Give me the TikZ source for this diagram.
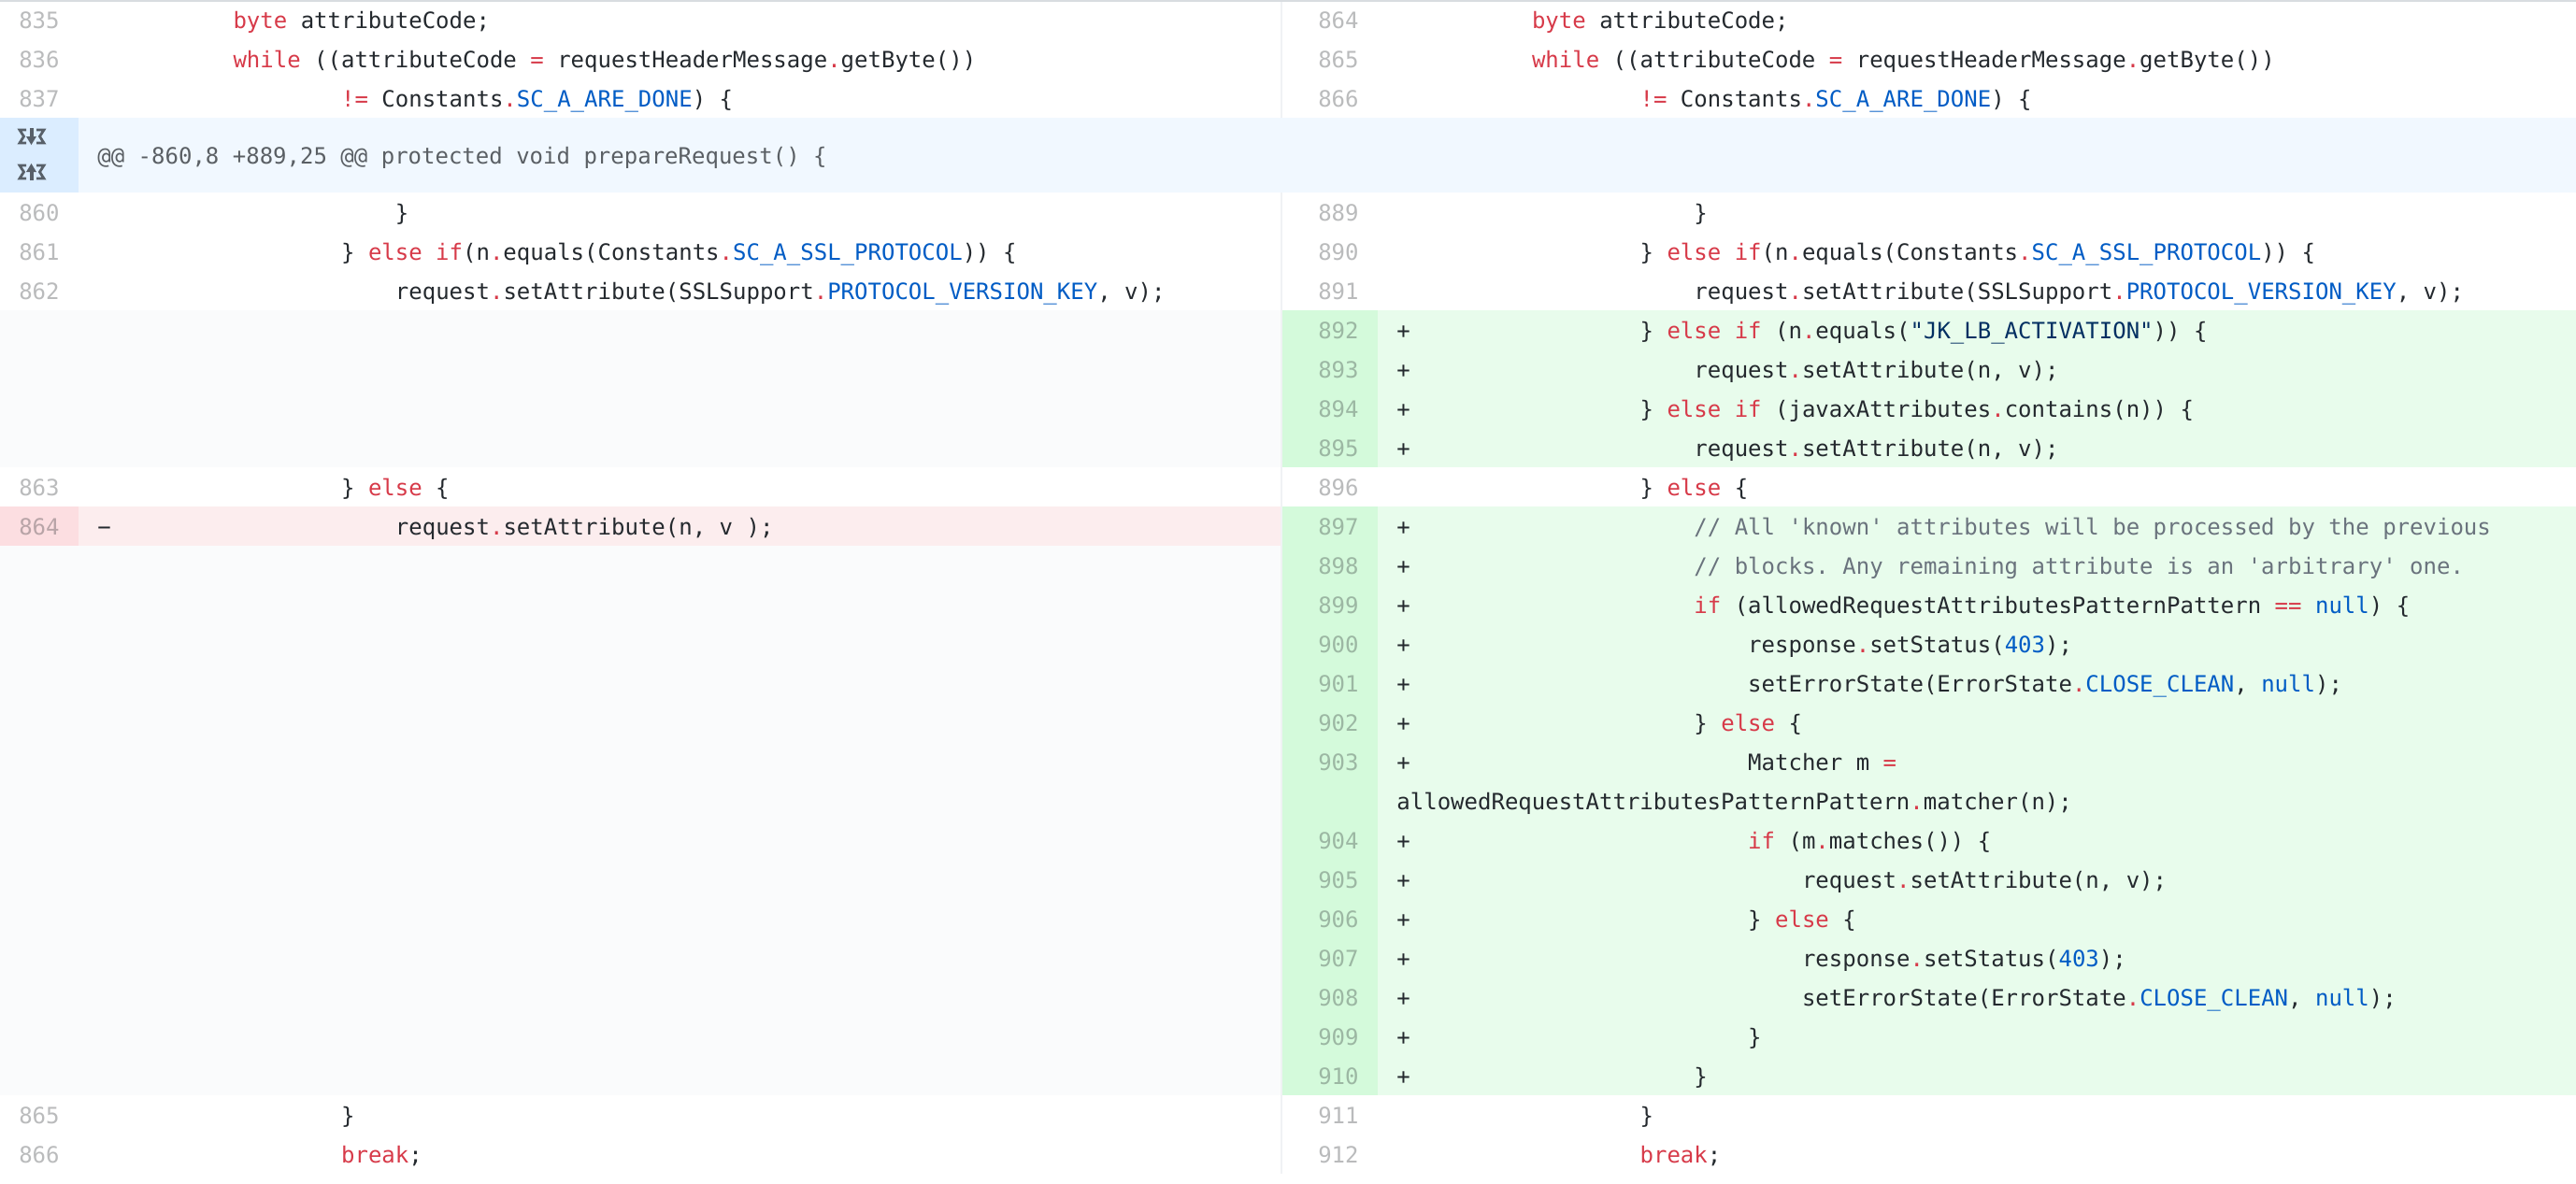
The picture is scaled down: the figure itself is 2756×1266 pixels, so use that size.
\documentclass[tikz,border=0pt]{standalone}
\usepackage{fontspec}
\setmonofont{DejaVu Sans Mono}
\definecolor{codetext}{HTML}{24292E}
\definecolor{kwred}{HTML}{D73A49}
\definecolor{cstblue}{HTML}{005CC5}
\definecolor{strblue}{HTML}{032F62}
\definecolor{cmtgray}{HTML}{6A737D}
\definecolor{numgray}{HTML}{1B1F23}
\definecolor{hunknum}{HTML}{DBEDFF}
\definecolor{hunkcode}{HTML}{F1F8FF}
\definecolor{addnum}{HTML}{D4FADB}
\definecolor{addcode}{HTML}{E8FCEC}
\definecolor{delnum}{HTML}{FCDEE1}
\definecolor{delcode}{HTML}{FCEDEE}
\definecolor{emptycell}{HTML}{FAFBFC}
\definecolor{topline}{HTML}{D8DCE0}
\definecolor{splitline}{HTML}{F0F2F4}
\definecolor{icongray}{HTML}{586069}
\newcommand{\kw}[1]{\textcolor{kwred}{#1}}
\newcommand{\cst}[1]{\textcolor{cstblue}{#1}}
\newcommand{\strg}[1]{\textcolor{strblue}{#1}}
\newcommand{\cmt}[1]{\textcolor{cmtgray}{#1}}

\begin{document}
\begin{tikzpicture}[x=0.5pt,y=-0.5pt,
code/.style = {anchor=base west, inner sep=0pt, text=codetext, font=\ttfamily\fontsize{12pt}{14pt}\selectfont},
lnum/.style = {anchor=base east, inner sep=0pt, text=numgray, text opacity=0.3, font=\ttfamily\fontsize{12pt}{14pt}\selectfont},
hunk/.style = {code, text=numgray, text opacity=0.7},
fold/.style = {draw=icongray, line width=1.4pt, line join=miter},]
\useasboundingbox (0,0) rectangle (2756,1266);
% backgrounds
\fill[white] (0,0) rectangle (2756,1266);
\fill[topline] (0,0) rectangle (2756,2);
\fill[splitline] (1370,2) rectangle (1372,126);
\fill[splitline] (1370,206) rectangle (1372,1256);
\fill[hunknum] (0,126) rectangle (84,206);
\fill[hunkcode] (84,126) rectangle (2756,206);
\fill[emptycell] (0,332) rectangle (1370,500);
\fill[emptycell] (0,584) rectangle (1370,1172);
\fill[delnum] (0,542) rectangle (84,584);
\fill[delcode] (84,542) rectangle (1370,584);
\fill[addnum] (1372,332) rectangle (1474,500);
\fill[addcode] (1474,332) rectangle (2756,500);
\fill[addnum] (1372,542) rectangle (1474,1172);
\fill[addcode] (1474,542) rectangle (2756,1172);
% expand icons
\draw[fold] (28,139)--(21,139)--(25.5,146)--(21,153)--(28,153);
\draw[fold] (39,139)--(47,139)--(42.5,146)--(47,153)--(39,153);
\draw[fold, line width=2pt] (33.5,137)--(33.5,147);
\fill[icongray] (28,146)--(39,146)--(33.5,155)--cycle;
\draw[fold] (28,177)--(21,177)--(25.5,184)--(21,191)--(28,191);
\draw[fold] (39,177)--(47,177)--(42.5,184)--(47,191)--(39,191);
\draw[fold, line width=2pt] (33.5,193)--(33.5,183);
\fill[icongray] (28,184)--(39,184)--(33.5,175)--cycle;
\node (hunkline) at (104,175)[hunk] {@@ -860,8 +889,25 @@ protected void prepareRequest() \{};
% old side
\node (n835) at (64,30)[lnum] {835};
\node (n836) at (64,72)[lnum] {836};
\node (n837) at (64,114)[lnum] {837};
\node (n860) at (64,236)[lnum] {860};
\node (n861) at (64,278)[lnum] {861};
\node (n862) at (64,320)[lnum] {862};
\node (n863) at (64,530)[lnum] {863};
\node (n864) at (64,572)[lnum] {864};
\node (n865) at (64,1202)[lnum] {865};
\node (n866) at (64,1244)[lnum] {866};
\node (l835) at (249.1,30)[code] {\kw{byte} attributeCode;};
\node (l836) at (249.1,72)[code] {\kw{while} ((attributeCode \kw{=} requestHeaderMessage\kw{.}getByte())};
\node (l837) at (364.7,114)[code] {\kw{!=} Constants\kw{.}\cst{SC\_A\_ARE\_DONE}) \{};
\node (l860) at (422.5,236)[code] {\}};
\node (l861) at (364.7,278)[code] {\} \kw{else} \kw{if}(n\kw{.}equals(Constants\kw{.}\cst{SC\_A\_SSL\_PROTOCOL})) \{};
\node (l862) at (422.5,320)[code] {request\kw{.}setAttribute(SSLSupport\kw{.}\cst{PROTOCOL\_VERSION\_KEY}, v);};
\node (l863) at (364.7,530)[code] {\} \kw{else} \{};
\node (m864) at (104,572)[code] {−};
\node (l864) at (422.5,572)[code] {request\kw{.}setAttribute(n, v );};
\node (l865) at (364.7,1202)[code] {\}};
\node (l866) at (364.7,1244)[code] {\kw{break};};
% new side
\node (k864) at (1454,30)[lnum] {864};
\node (k865) at (1454,72)[lnum] {865};
\node (k866) at (1454,114)[lnum] {866};
\node (k889) at (1454,236)[lnum] {889};
\node (k890) at (1454,278)[lnum] {890};
\node (k891) at (1454,320)[lnum] {891};
\node (k892) at (1454,362)[lnum] {892};
\node (k893) at (1454,404)[lnum] {893};
\node (k894) at (1454,446)[lnum] {894};
\node (k895) at (1454,488)[lnum] {895};
\node (k896) at (1454,530)[lnum] {896};
\node (k897) at (1454,572)[lnum] {897};
\node (k898) at (1454,614)[lnum] {898};
\node (k899) at (1454,656)[lnum] {899};
\node (k900) at (1454,698)[lnum] {900};
\node (k901) at (1454,740)[lnum] {901};
\node (k902) at (1454,782)[lnum] {902};
\node (k903) at (1454,824)[lnum] {903};
\node (k904) at (1454,908)[lnum] {904};
\node (k905) at (1454,950)[lnum] {905};
\node (k906) at (1454,992)[lnum] {906};
\node (k907) at (1454,1034)[lnum] {907};
\node (k908) at (1454,1076)[lnum] {908};
\node (k909) at (1454,1118)[lnum] {909};
\node (k910) at (1454,1160)[lnum] {910};
\node (k911) at (1454,1202)[lnum] {911};
\node (k912) at (1454,1244)[lnum] {912};
\node (p892) at (1494,362)[code] {+};
\node (p893) at (1494,404)[code] {+};
\node (p894) at (1494,446)[code] {+};
\node (p895) at (1494,488)[code] {+};
\node (p897) at (1494,572)[code] {+};
\node (p898) at (1494,614)[code] {+};
\node (p899) at (1494,656)[code] {+};
\node (p900) at (1494,698)[code] {+};
\node (p901) at (1494,740)[code] {+};
\node (p902) at (1494,782)[code] {+};
\node (p903) at (1494,824)[code] {+};
\node (p904) at (1494,908)[code] {+};
\node (p905) at (1494,950)[code] {+};
\node (p906) at (1494,992)[code] {+};
\node (p907) at (1494,1034)[code] {+};
\node (p908) at (1494,1076)[code] {+};
\node (p909) at (1494,1118)[code] {+};
\node (p910) at (1494,1160)[code] {+};
\node (r864) at (1638.6,30)[code] {\kw{byte} attributeCode;};
\node (r865) at (1638.6,72)[code] {\kw{while} ((attributeCode \kw{=} requestHeaderMessage\kw{.}getByte())};
\node (r866) at (1754.2,114)[code] {\kw{!=} Constants\kw{.}\cst{SC\_A\_ARE\_DONE}) \{};
\node (r889) at (1812,236)[code] {\}};
\node (r890) at (1754.2,278)[code] {\} \kw{else} \kw{if}(n\kw{.}equals(Constants\kw{.}\cst{SC\_A\_SSL\_PROTOCOL})) \{};
\node (r891) at (1812,320)[code] {request\kw{.}setAttribute(SSLSupport\kw{.}\cst{PROTOCOL\_VERSION\_KEY}, v);};
\node (r892) at (1754.2,362)[code] {\} \kw{else} \kw{if} (n\kw{.}equals(\strg{"JK\_LB\_ACTIVATION"})) \{};
\node (r893) at (1812,404)[code] {request\kw{.}setAttribute(n, v);};
\node (r894) at (1754.2,446)[code] {\} \kw{else} \kw{if} (javaxAttributes\kw{.}contains(n)) \{};
\node (r895) at (1812,488)[code] {request\kw{.}setAttribute(n, v);};
\node (r896) at (1754.2,530)[code] {\} \kw{else} \{};
\node (r897) at (1812,572)[code] {\cmt{// All 'known' attributes will be processed by the previous}};
\node (r898) at (1812,614)[code] {\cmt{// blocks. Any remaining attribute is an 'arbitrary' one.}};
\node (r899) at (1812,656)[code] {\kw{if} (allowedRequestAttributesPatternPattern \kw{==} \cst{null}) \{};
\node (r900) at (1869.8,698)[code] {response\kw{.}setStatus(\cst{403});};
\node (r901) at (1869.8,740)[code] {setErrorState(ErrorState\kw{.}\cst{CLOSE\_CLEAN}, \cst{null});};
\node (r902) at (1812,782)[code] {\} \kw{else} \{};
\node (r903) at (1869.8,824)[code] {Matcher m \kw{=}};
\node (r903b) at (1494,866)[code] {allowedRequestAttributesPatternPattern\kw{.}matcher(n);};
\node (r904) at (1869.8,908)[code] {\kw{if} (m\kw{.}matches()) \{};
\node (r905) at (1927.6,950)[code] {request\kw{.}setAttribute(n, v);};
\node (r906) at (1869.8,992)[code] {\} \kw{else} \{};
\node (r907) at (1927.6,1034)[code] {response\kw{.}setStatus(\cst{403});};
\node (r908) at (1927.6,1076)[code] {setErrorState(ErrorState\kw{.}\cst{CLOSE\_CLEAN}, \cst{null});};
\node (r909) at (1869.8,1118)[code] {\}};
\node (r910) at (1812,1160)[code] {\}};
\node (r911) at (1754.2,1202)[code] {\}};
\node (r912) at (1754.2,1244)[code] {\kw{break};};
\end{tikzpicture}
\end{document}
